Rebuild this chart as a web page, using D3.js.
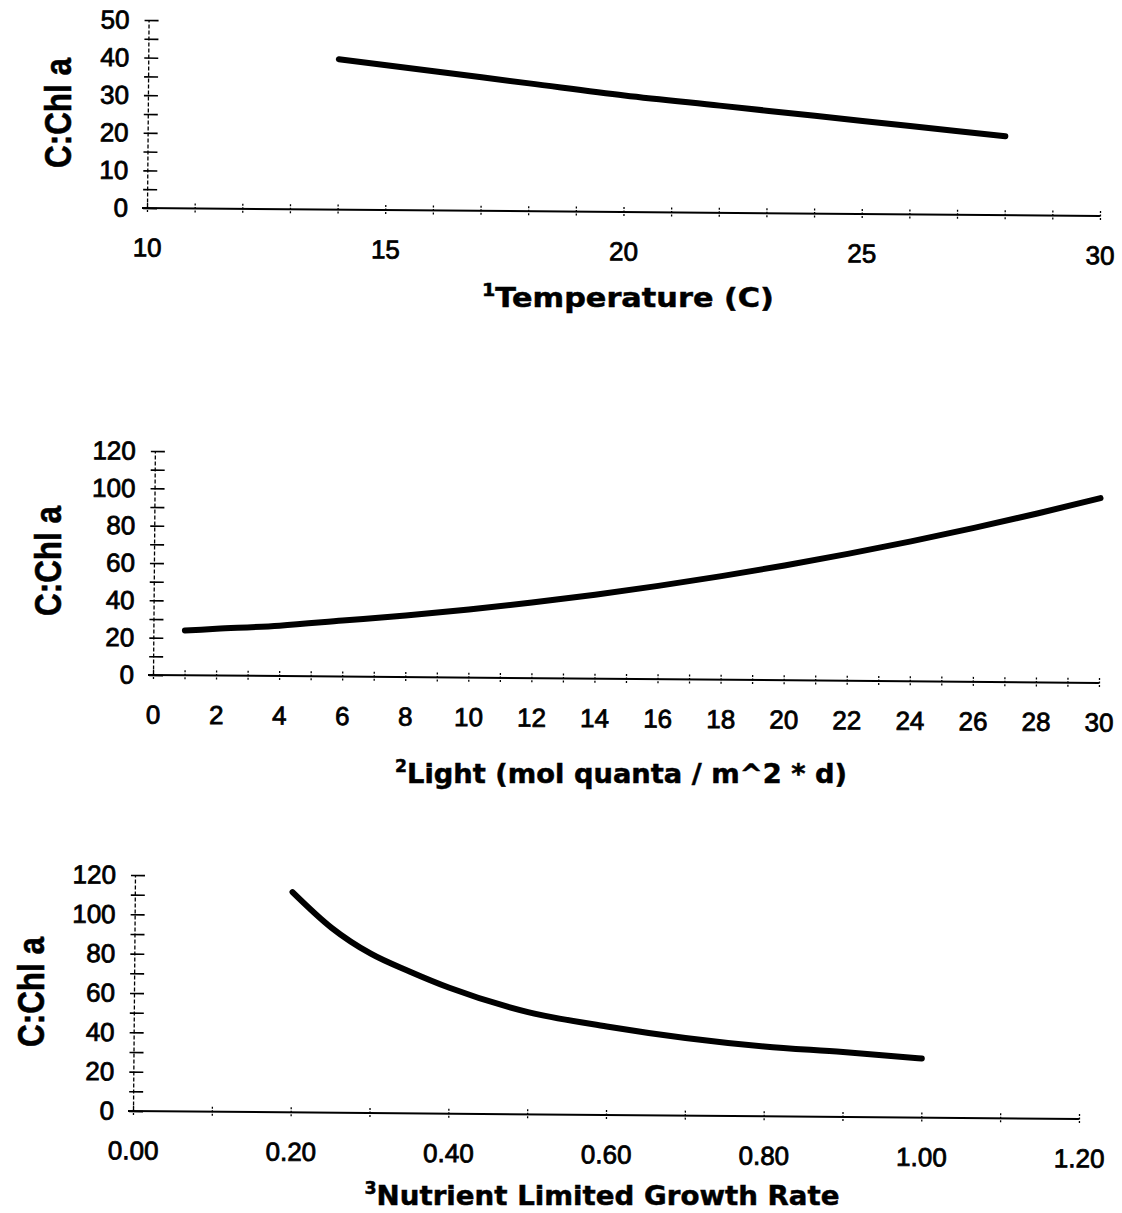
<!DOCTYPE html>
<html><head><meta charset="utf-8">
<script src="https://cdn.jsdelivr.net/npm/d3@7"></script>
<style>html,body{margin:0;padding:0;background:#fff;}</style>
</head><body>
<script>
// ---------- data ----------
const tempX = [14, 16, 18, 20, 22, 24, 26, 28];
const tempY = [40, 37, 34, 31, 28.5, 26, 23.5, 21];
const tempXTicks = [10, 15, 20, 25, 30];
const tempYTicks = [0, 10, 20, 30, 40, 50];

const lightX = [1, 2, 4, 6, 8, 10, 12, 14, 16, 18, 20, 22, 24, 26, 28, 30];
const lightY = [24, 25, 27, 30, 33, 36.5, 40.5, 45, 50, 55.5, 61.5, 68, 75, 82.5, 90.5, 99];
const lightXTicks = [0, 2, 4, 6, 8, 10, 12, 14, 16, 18, 20, 22, 24, 26, 28, 30];
const lightYTicks = [0, 20, 40, 60, 80, 100, 120];

const growthX = [0.20, 0.25, 0.30, 0.35, 0.40, 0.50, 0.60, 0.70, 0.80, 0.90, 1.00];
const growthY = [112, 94, 81, 72, 64, 52, 45, 39.5, 35.5, 33, 30];
const growthXTicks = [0.00, 0.20, 0.40, 0.60, 0.80, 1.00, 1.20];
const growthYTicks = [0, 20, 40, 60, 80, 100, 120];

const yLabel = "C:Chl a";
const titles = [["1", "Temperature (C)"], ["2", "Light (mol quanta / m^2 * d)"], ["3", "Nutrient Limited Growth Rate"]];

// ---------- drawing ----------
const W = 1122, H = 1213, TILT = 0.48;
const svg = d3.select("body").append("svg").attr("width", W).attr("height", H)
  .style("font-family", "'Liberation Sans', Arial, sans-serif");

function range(a, b, s) { const r = []; const n = Math.round((b - a) / s); for (let i = 0; i <= n; i++) r.push(+(a + i * s).toFixed(4)); return r; }

const panels = [
  { xs: tempX, ys: tempY, xT: tempXTicks, yT: tempYTicks, xMinor: range(10, 30, 1), yMinor: range(0, 50, 5),
    xd: [10, 30], yd: [0, 50], x0: 147, x1: 1100, y0: 208, yTop: 20, fx: d3.format("d"),
    ylab: [58, 113], title: titles[0], tpos: [628, 307], tlen: 292 },
  { xs: lightX, ys: lightY, xT: lightXTicks, yT: lightYTicks, xMinor: range(0, 30, 1), yMinor: range(0, 120, 10),
    xd: [0, 30], yd: [0, 120], x0: 153, x1: 1099, y0: 675, yTop: 451, fx: d3.format("d"),
    ylab: [48, 561], title: titles[1], tpos: [621, 783], tlen: 452 },
  { xs: growthX, ys: growthY, xT: growthXTicks, yT: growthYTicks, xMinor: range(0, 1.2, 0.1), yMinor: range(0, 120, 10),
    xd: [0, 1.2], yd: [0, 120], x0: 133, x1: 1079, y0: 1111, yTop: 875, fx: d3.format(".2f"),
    ylab: [31, 992], title: titles[2], tpos: [602, 1205], tlen: 475 }
];

const isIn = (arr, v) => arr.some(a => Math.abs(a - v) < 1e-6);

panels.forEach(p => {
  const g = svg.append("g").attr("transform", `rotate(${TILT},${p.x0},${p.y0})`);
  const x = d3.scaleLinear().domain(p.xd).range([p.x0, p.x1]);
  const y = d3.scaleLinear().domain(p.yd).range([p.y0, p.yTop]);

  // y axis
  const ya = g.append("g").attr("transform", `translate(${p.x0},0)`)
    .call(d3.axisLeft(y).tickValues(p.yMinor).tickSize(0).tickPadding(19)
      .tickFormat(d => isIn(p.yT, d) ? d3.format("d")(d) : ""));
  ya.select(".domain").attr("stroke", "#000").attr("stroke-width", 1.3).attr("stroke-dasharray", "4,2");
  ya.selectAll(".tick line").attr("x1", -4).attr("x2", 10).attr("stroke", "#000").attr("stroke-width", 1.6);
  ya.selectAll(".tick text").attr("font-size", 26).attr("fill", "#000")
    .attr("stroke", "#000").attr("stroke-width", 0.8).attr("font-family", "'Liberation Sans', Arial, sans-serif");

  // x axis
  const xa = g.append("g").attr("transform", `translate(0,${p.y0})`)
    .call(d3.axisBottom(x).tickValues(p.xMinor).tickSize(0).tickPadding(30)
      .tickFormat(d => isIn(p.xT, d) ? p.fx(d) : ""));
  xa.select(".domain").attr("stroke", "none");
  xa.append("line").attr("x1", p.x0 - 5).attr("x2", p.x1).attr("y1", 0).attr("y2", 0)
    .attr("stroke", "#000").attr("stroke-width", 2);
  xa.selectAll(".tick line").attr("y1", -5).attr("y2", 5).attr("stroke", "#000")
    .attr("stroke-width", 1.3).attr("stroke-dasharray", "2,1.5");
  xa.selectAll(".tick text").attr("font-size", 26).attr("fill", "#000")
    .attr("stroke", "#000").attr("stroke-width", 0.8).attr("font-family", "'Liberation Sans', Arial, sans-serif");

  // curve
  const pts = p.xs.map((v, i) => [v, p.ys[i]]);
  g.append("path").datum(pts)
    .attr("d", d3.line().x(d => x(d[0])).y(d => y(d[1])).curve(d3.curveMonotoneX))
    .attr("fill", "none").attr("stroke", "#000").attr("stroke-width", 6)
    .attr("stroke-linecap", "round").attr("stroke-linejoin", "round");

  // y label
  svg.append("text").attr("transform", `translate(${p.ylab[0]},${p.ylab[1]}) rotate(-90)`)
    .attr("text-anchor", "middle").attr("dy", "0.36em")
    .attr("font-size", 36).attr("font-weight", "bold")
    .attr("stroke", "#000").attr("stroke-width", 0.6)
    .attr("textLength", 110).attr("lengthAdjust", "spacingAndGlyphs")
    .text(yLabel);

  // x title
  const t = svg.append("text").attr("x", p.tpos[0]).attr("y", p.tpos[1]).attr("text-anchor", "middle")
    .attr("font-family", "'DejaVu Sans', sans-serif").attr("font-weight", "bold").attr("font-size", 27)
    .attr("textLength", p.tlen).attr("lengthAdjust", "spacingAndGlyphs")
    .attr("stroke", "#000").attr("stroke-width", 0.5);
  t.append("tspan").attr("font-size", 17).attr("dy", -11).text(p.title[0]);
  t.append("tspan").attr("dy", 11).text(p.title[1]);
});
</script>
</body></html>
